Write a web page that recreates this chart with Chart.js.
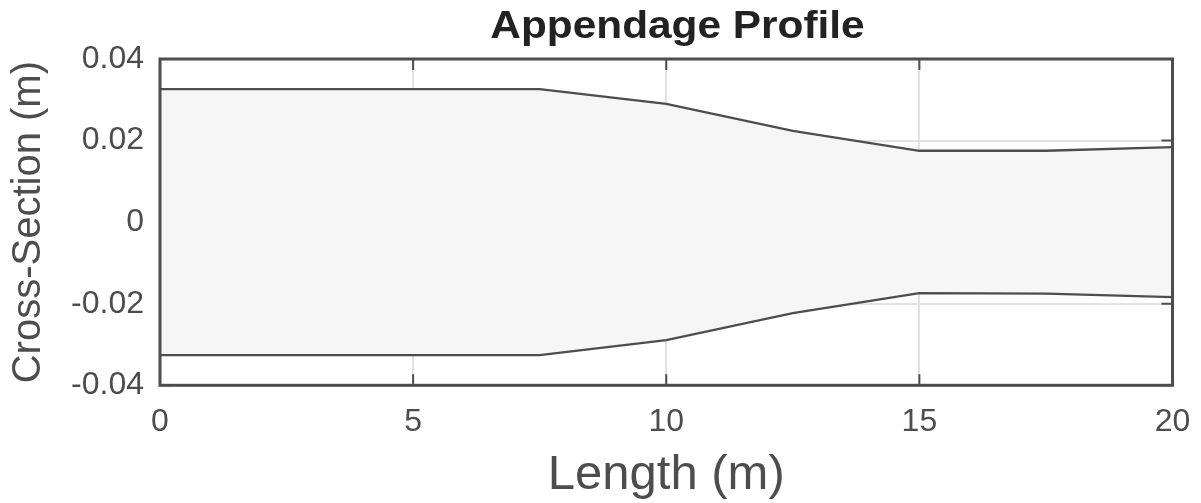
<!DOCTYPE html>
<html>
<head>
<meta charset="utf-8">
<script src="https://cdn.jsdelivr.net/npm/chart.js@4"></script>
<style>
  html, body { margin: 0; padding: 0; background: #ffffff; }
  #wrap { width: 1201px; height: 503px; position: relative; }
</style>
</head>
<body>
<div id="wrap"><canvas id="c"></canvas></div>
<script>
// ---- data ----
const lengths = [0, 7.5, 10, 12.5, 15, 17.5, 20];
const upperEdge = [0.0326, 0.0326, 0.0290, 0.0224, 0.0175, 0.0175, 0.0184];
const lowerEdge = [-0.0326, -0.0326, -0.0289, -0.0223, -0.0174, -0.0175, -0.0184];
const xTickValues = [0, 5, 10, 15, 20];
const xTickLabels = ['0', '5', '10', '15', '20'];
const yTickValues = [-0.04, -0.02, 0, 0.02, 0.04];
const yTickLabels = ['-0.04', '-0.02', '0', '0.02', '0.04'];
const chartTitle = 'Appendage Profile';
const xTitle = 'Length (m)';
const yTitle = 'Cross-Section (m)';

const AXIS = '#4d4d4d';
const GRID = '#e2e2e2';
const FONT = "'Liberation Sans', Arial, Helvetica, sans-serif";

const upperPts = lengths.map((x, i) => ({ x: x, y: upperEdge[i] }));
const lowerPts = lengths.map((x, i) => ({ x: x, y: lowerEdge[i] }));

const framePlugin = {
  id: 'frame',
  beforeDatasetsDraw(chart) {
    const { ctx, chartArea: a, scales } = chart;
    const tl = 11;
    ctx.save();
    ctx.strokeStyle = AXIS;
    ctx.lineWidth = 2;
    ctx.beginPath();
    xTickValues.forEach(v => {
      const px = scales.x.getPixelForValue(v);
      ctx.moveTo(px, a.bottom); ctx.lineTo(px, a.bottom - tl);
      ctx.moveTo(px, a.top); ctx.lineTo(px, a.top + tl);
    });
    yTickValues.forEach(v => {
      const py = scales.y.getPixelForValue(v);
      ctx.moveTo(a.left, py); ctx.lineTo(a.left + tl, py);
      ctx.moveTo(a.right, py); ctx.lineTo(a.right - tl, py);
    });
    ctx.stroke();
    ctx.restore();
  },
  afterDatasetsDraw(chart) {
    const { ctx, chartArea: a } = chart;
    ctx.save();
    ctx.strokeStyle = AXIS;
    ctx.lineWidth = 3;
    ctx.strokeRect(a.left, a.top, a.right - a.left, a.bottom - a.top);
    ctx.restore();
  },
  afterDraw(chart) {
    const { ctx } = chart;
    ctx.save();
    ctx.fillStyle = '#222222';
    ctx.font = "bold 38px 'Liberation Sans', Arial, sans-serif";
    ctx.textAlign = 'center';
    ctx.textBaseline = 'alphabetic';
    ctx.translate(677.5, 37.5);
    ctx.scale(1.115, 1);
    ctx.fillText(chartTitle, 0, 0);
    ctx.restore();
  }
};

new Chart(document.getElementById('c'), {
  type: 'line',
  data: {
    datasets: [
      {
        data: upperPts,
        borderColor: AXIS,
        borderWidth: 2.3,
        backgroundColor: '#f6f6f6',
        fill: false,
        pointRadius: 0,
        tension: 0
      },
      {
        data: lowerPts,
        borderColor: AXIS,
        borderWidth: 2.3,
        backgroundColor: '#f6f6f6',
        fill: '-1',
        pointRadius: 0,
        tension: 0
      }
    ]
  },
  options: {
    responsive: true,
    maintainAspectRatio: false,
    animation: false,
    events: [],
    layout: { padding: { top: 59, left: 0, right: 28.5, bottom: 0 } },
    plugins: {
      legend: { display: false },
      tooltip: { enabled: false },
      title: { display: false }
    },
    scales: {
      x: {
        type: 'linear',
        min: 0, max: 20,
        afterBuildTicks(scale) { scale.ticks = xTickValues.map(v => ({ value: v })); },
        afterFit(scale) { scale.height = 117.7; scale.paddingLeft = 0; scale.paddingRight = 0; },
        grid: { color: GRID, lineWidth: 2, drawTicks: false },
        border: { display: false },
        ticks: {
          color: AXIS,
          font: { family: FONT, size: 32 },
          padding: 18,
          maxRotation: 0,
          callback: (v) => xTickLabels[xTickValues.indexOf(v)]
        },
        title: {
          display: true,
          text: xTitle,
          color: AXIS,
          font: { family: FONT, size: 49, lineHeight: 1.14 },
          padding: { top: 0, bottom: 0 }
        }
      },
      y: {
        type: 'linear',
        min: -0.04, max: 0.04,
        afterBuildTicks(scale) { scale.ticks = yTickValues.map(v => ({ value: v })); },
        afterFit(scale) { scale.width = 160; scale.paddingTop = 0; scale.paddingBottom = 0; },
        grid: { color: GRID, lineWidth: 2, drawTicks: false },
        border: { display: false },
        ticks: {
          color: AXIS,
          font: { family: FONT, size: 32 },
          padding: 16,
          callback: (v) => yTickLabels[yTickValues.findIndex(t => Math.abs(t - v) < 1e-9)]
        },
        title: {
          display: true,
          text: yTitle,
          color: AXIS,
          font: { family: FONT, size: 40, lineHeight: 1.2 },
          padding: { top: 5, bottom: 0 }
        }
      }
    }
  },
  plugins: [framePlugin]
});
</script>
</body>
</html>
